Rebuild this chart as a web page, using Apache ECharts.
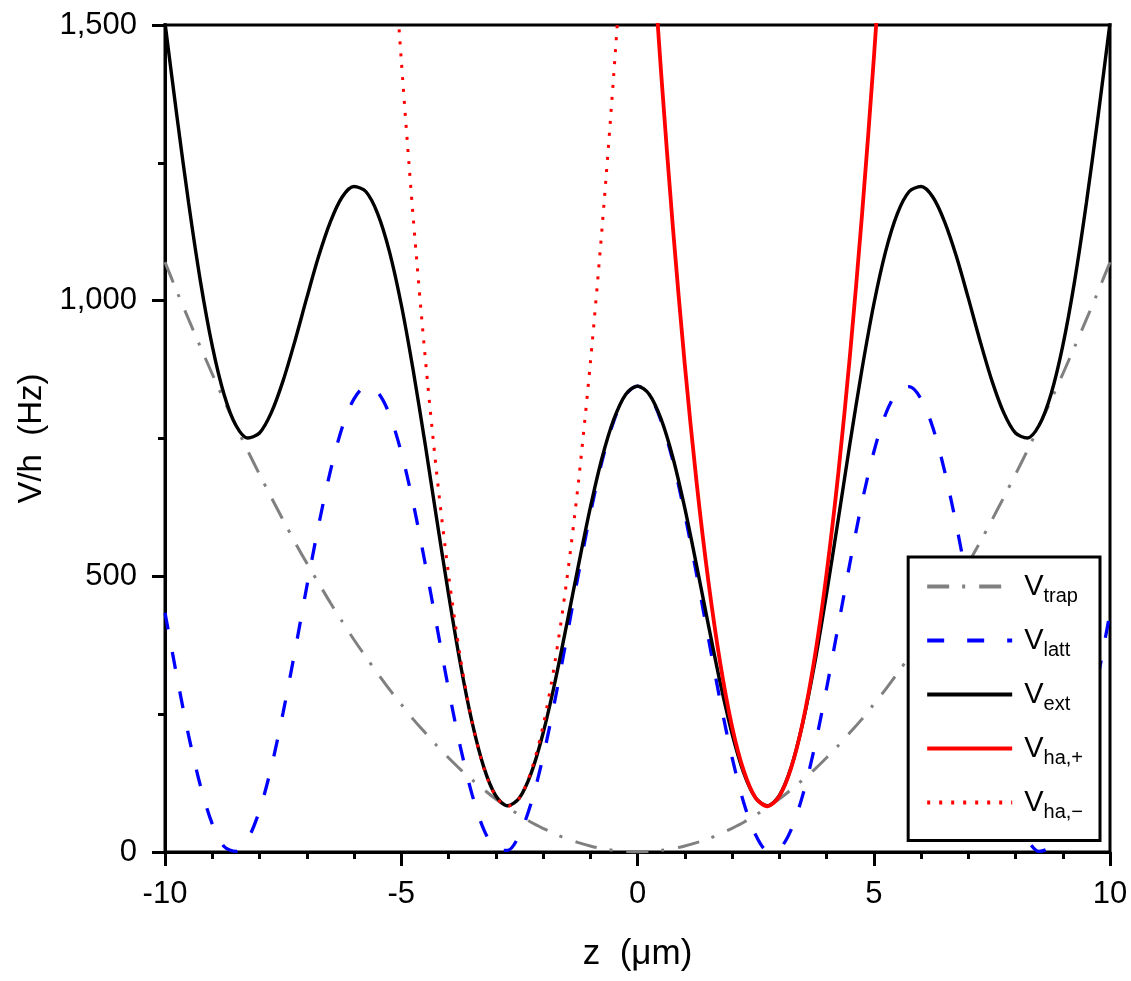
<!DOCTYPE html>
<html>
<head>
<meta charset="utf-8">
<script src="https://cdn.jsdelivr.net/npm/echarts@6/dist/echarts.min.js"></script>
<style>
html,body{margin:0;padding:0;background:#fff;}
#main{width:1131px;height:981px;}
</style>
</head>
<body>
<div id="main"></div>
<script>
var FONT = "'Liberation Sans', Arial, sans-serif";

// z positions (µm) for the three full-range curves
var zValues = [-10, -9.75, -9.5, -9.25, -9, -8.75, -8.5, -8.25, -8, -7.75, -7.5, -7.25, -7, -6.75, -6.5, -6.25,
  -6, -5.75, -5.5, -5.25, -5, -4.75, -4.5, -4.25, -4, -3.75, -3.5, -3.25, -3, -2.75, -2.5, -2.25, -2, -1.75,
  -1.5, -1.25, -1, -0.75, -0.5, -0.25, 0, 0.25, 0.5, 0.75, 1, 1.25, 1.5, 1.75, 2, 2.25, 2.5, 2.75, 3, 3.25,
  3.5, 3.75, 4, 4.25, 4.5, 4.75, 5, 5.25, 5.5, 5.75, 6, 6.25, 6.5, 6.75, 7, 7.25, 7.5, 7.75, 8, 8.25, 8.5,
  8.75, 9, 9.25, 9.5, 9.75, 10];

var vTrap = [1070, 1017, 966, 916, 867, 819, 773, 728, 685, 643, 602, 562, 524, 488, 452, 418, 385, 354, 324,
  295, 268, 241, 217, 193, 171, 150, 131, 113, 96, 81, 67, 54, 43, 33, 24, 17, 11, 6, 3, 1, 0, 1, 3, 6, 11,
  17, 24, 33, 43, 54, 67, 81, 96, 113, 131, 150, 171, 193, 217, 241, 268, 295, 324, 354, 385, 418, 452, 488,
  524, 562, 602, 643, 685, 728, 773, 819, 867, 916, 966, 1017, 1070];

var vLatt = [434, 319, 211, 120, 51, 10, 1, 23, 75, 154, 253, 364, 481, 592, 691, 770, 822, 844, 834, 794,
  725, 634, 526, 411, 296, 191, 104, 40, 6, 3, 31, 89, 172, 274, 388, 504, 613, 709, 782, 829, 845, 829, 782,
  709, 613, 504, 388, 274, 172, 89, 31, 3, 6, 40, 104, 191, 296, 411, 526, 634, 725, 794, 834, 844, 822, 770,
  691, 592, 481, 364, 253, 154, 75, 23, 1, 10, 51, 120, 211, 319, 434];

var vExt = [1504, 1336, 1177, 1035, 918, 830, 774, 751, 760, 797, 855, 927, 1005, 1080, 1143, 1188, 1207,
  1198, 1158, 1089, 993, 875, 743, 604, 468, 342, 235, 153, 102, 84, 98, 143, 215, 307, 412, 520, 624, 715,
  785, 830, 845, 830, 785, 715, 624, 520, 412, 307, 215, 143, 98, 84, 102, 153, 235, 342, 468, 604, 743, 875,
  993, 1089, 1158, 1198, 1207, 1188, 1143, 1080, 1005, 927, 855, 797, 760, 751, 774, 830, 918, 1035, 1177,
  1336, 1504];

// harmonic approximations around the two central minima
var zHaPlus = [0.25, 0.5, 0.75, 1, 1.25, 1.5, 1.75, 2, 2.25, 2.5, 2.75, 3, 3.25, 3.5, 3.75, 4, 4.25, 4.5,
  4.75, 5, 5.25];
var vHaPlus = [1726, 1413, 1132, 885, 671, 491, 343, 228, 147, 98, 83, 101, 152, 236, 353, 504, 687, 904,
  1154, 1437, 1753];
var zHaMinus = [-5.25, -5, -4.75, -4.5, -4.25, -4, -3.75, -3.5, -3.25, -3, -2.75, -2.5, -2.25, -2, -1.75,
  -1.5, -1.25, -1, -0.75, -0.5, -0.25];
var vHaMinus = [1753, 1437, 1154, 904, 687, 504, 353, 236, 152, 101, 83, 98, 147, 228, 343, 491, 671, 885,
  1132, 1413, 1726];

var yTicks = [0, 500, 1000, 1500];
var xTicks = [-10, -5, 0, 5, 10];
var legendSubs = {trap: 'trap', latt: 'latt', ext: 'ext', haPlus: 'ha,+', haMinus: 'ha,\u2212'};

function pairs(xs, ys) {
  return xs.map(function (x, i) { return [x, ys[i]]; });
}

var chart = echarts.init(document.getElementById('main'));

var option = {
  animation: false,
  backgroundColor: '#fff',
  grid: {
    left: 165, right: 21, top: 25, bottom: 129,
    containLabel: false, outerBoundsMode: 'none',
    show: true, borderColor: '#000', borderWidth: 3
  },
  xAxis: {
    type: 'value',
    min: xTicks[0], max: xTicks[xTicks.length - 1], interval: 5,
    name: 'z  (\u03bcm)',
    nameLocation: 'middle',
    nameGap: 85,
    nameTextStyle: {fontFamily: FONT, fontSize: 35, color: '#000'},
    axisLine: {onZero: false, lineStyle: {color: '#000', width: 3}},
    axisTick: {length: 14, lineStyle: {color: '#000', width: 3}},
    minorTick: {show: true, splitNumber: 5, length: 7, lineStyle: {color: '#000', width: 3}},
    splitLine: {show: false},
    axisLabel: {fontFamily: FONT, fontSize: 31, color: '#000', margin: 27,
      formatter: function (v) { return String(v); }}
  },
  yAxis: {
    type: 'value',
    min: yTicks[0], max: yTicks[yTicks.length - 1], interval: 500,
    name: 'V/h  (Hz)',
    nameLocation: 'middle',
    nameGap: 107,
    nameTextStyle: {fontFamily: FONT, fontSize: 33, color: '#000'},
    axisLine: {show: true, onZero: false, lineStyle: {color: '#000', width: 3}},
    axisTick: {show: true, length: 13, lineStyle: {color: '#000', width: 3}},
    minorTick: {show: true, splitNumber: 2, length: 7, lineStyle: {color: '#000', width: 3}},
    splitLine: {show: false},
    axisLabel: {fontFamily: FONT, fontSize: 31, color: '#000', margin: 28}
  },
  legend: {
    orient: 'vertical',
    right: 31, top: 557,
    padding: [15, 17, 18, 17],
    itemGap: 19.5,
    itemWidth: 85, itemHeight: 14,
    borderColor: '#000', borderWidth: 3,
    backgroundColor: '#fff',
    itemStyle: {opacity: 0},
    lineStyle: {width: 4},
    data: ['trap', 'latt', 'ext', 'haPlus', 'haMinus'],
    formatter: function (name) { return '{v|V}{s|' + legendSubs[name] + '}'; },
    textStyle: {
      fontFamily: FONT, color: '#000',
      rich: {
        v: {fontFamily: FONT, fontSize: 29, lineHeight: 40, color: '#000', padding: [0, 0, 0, 7]},
        s: {fontFamily: FONT, fontSize: 20, lineHeight: 14, color: '#000', verticalAlign: 'bottom'}
      }
    }
  },
  series: [
    {
      name: 'trap', type: 'line', symbol: 'none', smooth: 0.3,
      data: pairs(zValues, vTrap),
      lineStyle: {color: '#808080', width: 3, type: [22, 13, 3, 14]},
      itemStyle: {color: '#808080'}
    },
    {
      name: 'latt', type: 'line', symbol: 'none', smooth: 0.3,
      data: pairs(zValues, vLatt),
      lineStyle: {color: '#0000ff', width: 3.3, type: [17, 23]},
      itemStyle: {color: '#0000ff'}
    },
    {
      name: 'ext', type: 'line', symbol: 'none', smooth: 0.3,
      data: pairs(zValues, vExt),
      lineStyle: {color: '#000', width: 3.4, type: 'solid'},
      itemStyle: {color: '#000'}
    },
    {
      name: 'haPlus', type: 'line', symbol: 'none', smooth: 0.3,
      data: pairs(zHaPlus, vHaPlus),
      lineStyle: {color: '#ff0000', width: 3.8, type: 'solid'},
      itemStyle: {color: '#ff0000'}
    },
    {
      name: 'haMinus', type: 'line', symbol: 'none', smooth: 0.3,
      data: pairs(zHaMinus, vHaMinus),
      lineStyle: {color: '#ff0000', width: 3, type: [3, 9]},
      itemStyle: {color: '#ff0000'}
    }
  ]
};

chart.setOption(option);
</script>
</body>
</html>
